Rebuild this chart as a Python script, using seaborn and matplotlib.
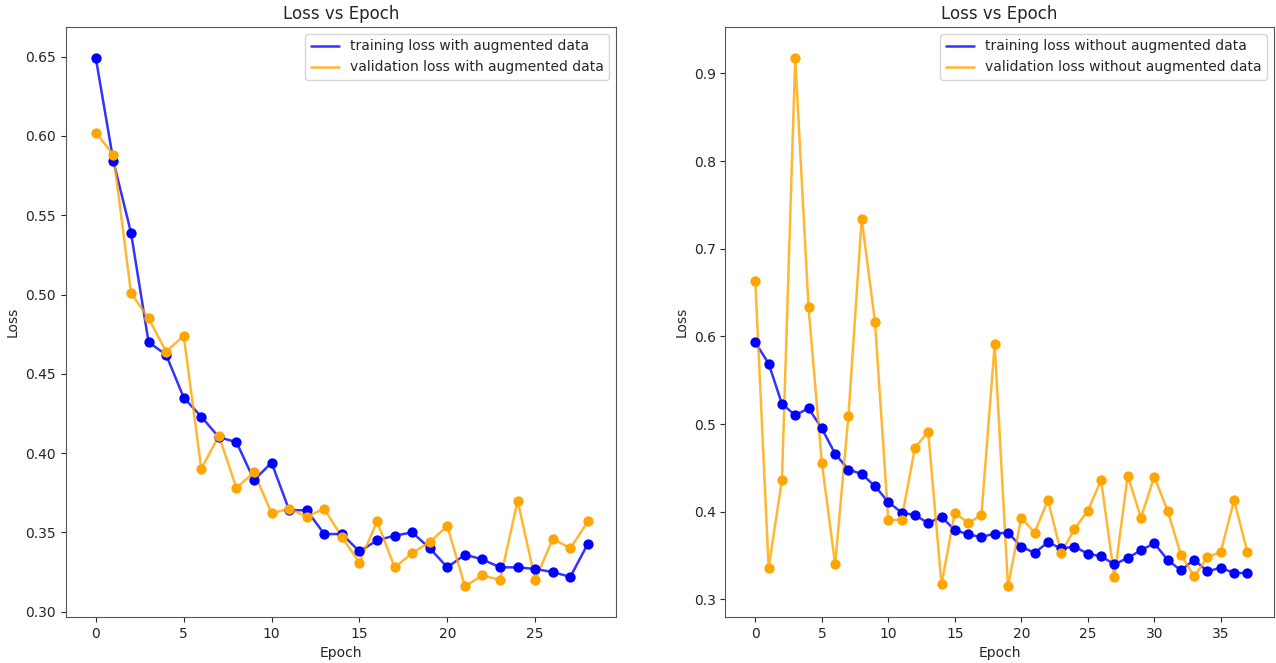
import numpy as np
import pandas as pd
import matplotlib
matplotlib.use("Agg")
import matplotlib.pyplot as plt
import seaborn as sns

# losses per epoch
train_aug = [0.649, 0.584, 0.539, 0.470, 0.462, 0.435, 0.423, 0.410, 0.407, 0.383,
             0.394, 0.364, 0.364, 0.349, 0.349, 0.338, 0.345, 0.348, 0.350, 0.340,
             0.328, 0.336, 0.333, 0.328, 0.328, 0.327, 0.325, 0.322, 0.343]
val_aug = [0.602, 0.588, 0.501, 0.485, 0.464, 0.474, 0.390, 0.411, 0.378, 0.388,
           0.362, 0.365, 0.360, 0.365, 0.347, 0.331, 0.357, 0.328, 0.337, 0.344,
           0.354, 0.316, 0.323, 0.320, 0.370, 0.320, 0.346, 0.340, 0.357]

train_noaug = [0.593, 0.569, 0.523, 0.510, 0.518, 0.495, 0.466, 0.448, 0.443, 0.429,
               0.411, 0.399, 0.396, 0.387, 0.394, 0.379, 0.374, 0.371, 0.375, 0.376,
               0.360, 0.353, 0.365, 0.358, 0.360, 0.352, 0.349, 0.340, 0.347, 0.356,
               0.364, 0.345, 0.333, 0.345, 0.332, 0.336, 0.330, 0.330]
val_noaug = [0.663, 0.336, 0.436, 0.918, 0.633, 0.456, 0.340, 0.509, 0.734, 0.616,
             0.390, 0.391, 0.473, 0.491, 0.317, 0.399, 0.387, 0.396, 0.591, 0.315,
             0.393, 0.376, 0.413, 0.353, 0.380, 0.401, 0.436, 0.325, 0.441, 0.393,
             0.440, 0.401, 0.351, 0.326, 0.348, 0.354, 0.413, 0.354]

sns.set_style("ticks")
plt.rcParams['font.family'] = ['DejaVu Sans']

fig, axes = plt.subplots(1, 2, figsize=(12.76, 6.63), dpi=100)


def draw_panel(ax, train, val, suffix):
    epochs = np.arange(len(train))
    df = pd.DataFrame({'epoch': epochs, 'train': train, 'val': val})
    sns.lineplot(data=df, x='epoch', y='train', ax=ax, color='blue', alpha=0.8,
                 linewidth=1.8, label=f'training loss {suffix}')
    sns.lineplot(data=df, x='epoch', y='val', ax=ax, color='orange', alpha=0.8,
                 linewidth=1.8, label=f'validation loss {suffix}')
    sns.scatterplot(data=df, x='epoch', y='train', ax=ax, color='blue',
                    s=55, linewidth=0, legend=False, zorder=3)
    sns.scatterplot(data=df, x='epoch', y='val', ax=ax, color='orange',
                    s=55, linewidth=0, legend=False, zorder=3)
    ax.set_title('Loss vs Epoch', fontsize=12)
    ax.set_xlabel('Epoch')
    ax.set_ylabel('Loss')
    ax.legend(loc='upper right', fontsize=10)
    for sp in ax.spines.values():
        sp.set_visible(True)
        sp.set_color('#555555')


draw_panel(axes[0], train_aug, val_aug, 'with augmented data')
draw_panel(axes[1], train_noaug, val_noaug, 'without augmented data')

axes[0].set_xlim(-1.7, 29.6)
axes[0].set_ylim(0.2967, 0.6687)
axes[0].set_xticks([0, 5, 10, 15, 20, 25])
axes[1].set_xlim(-2.25, 39.0)
axes[1].set_ylim(0.2798, 0.953)
axes[1].set_xticks([0, 5, 10, 15, 20, 25, 30, 35])

axes[0].set_position([0.0517, 0.0694, 0.4311, 0.8899])
axes[1].set_position([0.5685, 0.0694, 0.4299, 0.8899])

fig.savefig('out.png', dpi=100)
